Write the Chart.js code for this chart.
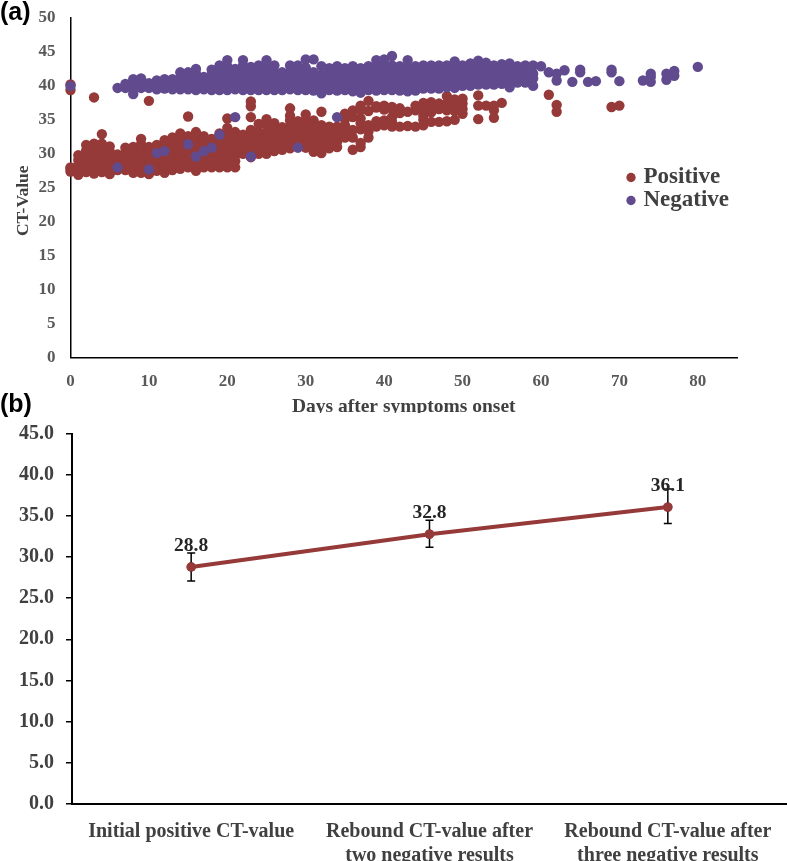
<!DOCTYPE html>
<html>
<head>
<meta charset="utf-8">
<script src="https://cdn.jsdelivr.net/npm/chart.js@4"></script>
<style>
html,body{margin:0;padding:0;background:#fff;width:787px;height:861px;overflow:hidden}
canvas{position:absolute;left:0}
#ca{top:0}
#cb{top:420px}
.panel{position:absolute;left:0;font:bold 25px "Liberation Sans",Arial,sans-serif;color:#000;line-height:26px}
</style>
</head>
<body>
<canvas id="ca" width="787" height="413"></canvas>
<canvas id="cb" width="787" height="441"></canvas>
<div class="panel" style="top:-2px">(a)</div>
<div class="panel" style="top:390px">(b)</div>
<script>
const positiveColumns = [
[0,27.4,27.8,28.0,39.4,40.2],
[1,26.9,27.6,28.4,29.1,29.8],
[2,27.3,28.1,28.9,29.7,30.5,31.3],
[3,27.1,27.9,28.8,29.6,30.5,31.5,38.3],
[4,27.3,28.2,29.0,29.9,30.8,31.5,32.9],
[5,27.0,27.9,28.7,29.6,30.4,31.1],
[6,27.6,28.4,29.2,29.9],
[7,27.6,28.4,29.3,30.1,30.9],
[8,27.2,28.1,28.9,29.7,30.4,31.0],
[9,27.2,28.0,28.9,29.8,30.6,31.4,32.2],
[10,27.0,27.9,28.7,29.6,30.4,31.0,37.8],
[11,27.5,28.3,29.1,29.9,30.6,31.3],
[12,27.2,28.0,28.9,29.7,30.5,31.3,32.0],
[13,27.6,28.4,29.2,30.0,30.8,31.6,32.4],
[14,27.8,28.6,29.4,30.2,31.0,31.8,32.4,33.0],
[15,28.0,28.8,29.6,30.4,31.2,32.0,32.6,35.5],
[16,27.5,28.3,29.1,29.9,30.7,31.5,32.4,33.2],
[17,28.0,28.8,29.6,30.4,31.2,32.0,32.6],
[18,28.0,28.8,29.6,30.4,31.2,31.8,32.2],
[19,28.0,28.8,29.6,30.4,31.2,32.0,33.0],
[20,28.0,28.8,29.6,30.4,31.2,32.0,32.9,33.8,35.2],
[21,28.0,28.9,29.7,30.5,31.3,32.2,33.2],
[22,30.0,30.8,31.6,32.2,32.8],
[23,29.5,30.3,31.1,31.9,32.7,33.5,35.4,37.0,37.7],
[24,30.0,30.8,31.6,32.4,33.2,34.4],
[25,30.0,30.8,31.6,32.4,33.2,34.2,35.1],
[26,30.4,31.2,32.0,32.8,33.6,34.5],
[27,30.6,31.4,32.2,33.0,33.9],
[28,30.8,31.6,32.4,33.2,34.1,34.9,35.6,36.7],
[29,31.8,32.6,33.4,34.1,34.8],
[30,30.9,31.7,32.5,33.4,34.2,35.0,35.8],
[31,30.3,31.1,32.0,32.8,33.7,34.9],
[32,30.1,31.0,31.9,32.8,33.6,34.2,36.2],
[33,30.8,31.6,32.4,33.2,34.0],
[34,31.0,31.8,32.7,33.4,34.0],
[35,32.4,33.2,34.2,35.1,35.9],
[36,30.6,32.4,33.5,35.4,36.4],
[37,31.0,31.6,33.6,34.5,35.2,36.4,37.1],
[38,32.4,33.3,34.2,36.3,37.8],
[39,34.0,34.8,36.8,37.0],
[40,34.2,34.9,36.5,37.1],
[41,34.0,34.7,35.4,36.6,36.9],
[42,34.0,36.0,36.7],
[43,34.1,36.2],
[44,34.0,36.4,37.1],
[45,34.2,35.0,35.6,36.6,37.5],
[46,34.7,36.1,36.8,37.6],
[47,34.7,36.6,37.4],
[48,34.8,36.4,37.4,38.5],
[49,35.0,36.3,37.2,38.0],
[50,35.9,36.6,37.4,38.1],
[52,35.1,37.1,38.6],
[53,37.1],
[54,35.3,36.4,37.1],
[55,37.5],
[61,38.7],
[62,36.2,37.2],
[69,36.9],
[70,37.1]
];
const negativeColumns = [
[0,40.0],
[6,28.0,39.7],
[7,39.7,40.3],
[8,38.8,39.6,40.3,41.0],
[9,39.7,40.4,41.1],
[10,27.7,39.7,40.4],
[11,30.1,39.5,40.1,40.8],
[12,30.4,39.6,40.3,41.0],
[13,39.5,40.2,41.0],
[14,39.5,40.3,41.1,42.0],
[15,31.4,39.5,40.3,41.0,42.0],
[16,29.6,39.4,40.2,41.0,41.8,42.5],
[17,30.4,39.5,40.3,41.3],
[18,30.9,39.4,40.3,41.2,41.7,42.4],
[19,32.8,39.4,40.3,41.2,42.0,43.0],
[20,39.4,40.3,41.2,42.0,42.9,43.8],
[21,35.4,39.5,40.4,41.2,42.0,42.5],
[22,39.4,40.4,41.2,42.0,43.0,43.8],
[23,29.6,39.4,40.3,41.1,42.0,42.8],
[24,39.4,40.3,41.2,42.1,43.0],
[25,39.4,40.2,41.1,42.0,43.0,43.8],
[26,39.4,40.3,41.2,42.1,43.0],
[27,39.4,40.3,41.2,42.0],
[28,39.5,40.4,41.2,42.0,43.0],
[29,30.9,39.4,40.3,41.2,42.1,43.0],
[30,39.4,40.3,41.2,42.1,42.7,43.9],
[31,39.3,40.2,41.1,42.0,43.9],
[32,38.9,39.8,40.7,41.6,42.9],
[33,39.4,40.3,41.1,42.0,42.6],
[34,35.4,39.3,40.2,41.1,42.0,42.9],
[35,39.4,40.3,41.2,42.0,42.6],
[36,39.2,40.1,41.0,41.9,42.9],
[37,39.0,39.9,40.8,41.7,42.6],
[38,39.4,40.3,41.2,42.0,42.9],
[39,39.3,40.2,41.1,42.0,42.8,43.8],
[40,39.4,40.3,41.2,42.1,43.0,43.9],
[41,39.4,40.3,41.2,42.1,43.0,44.4],
[42,39.3,40.2,41.1,42.0,42.9],
[43,39.2,40.1,41.0,41.9,42.7,43.8],
[44,39.3,40.2,41.1,42.0,42.9],
[45,39.6,40.4,41.2,42.1,43.0],
[46,39.6,40.4,41.2,42.1,43.0],
[47,39.6,40.4,41.3,42.2,43.0],
[48,39.8,40.6,41.4,42.2,43.0],
[49,39.7,40.5,41.3,42.1,42.9,43.6],
[50,40.0,40.8,41.6,42.4,43.0],
[51,40.0,40.8,41.6,42.4,43.3],
[52,40.2,41.0,41.8,42.6,43.7],
[53,40.2,41.0,41.8,42.6,43.4],
[54,40.2,41.0,41.8,42.5,43.0],
[55,40.3,41.0,41.8,42.5,43.2],
[56,39.8,40.7,41.5,42.3,43.3],
[57,40.5,41.2,42.0,42.9],
[58,40.5,41.3,42.1,43.0],
[59,40.0,41.1,41.8,43.0],
[60,42.9],
[61,42.0],
[62,40.8,41.8],
[63,42.3],
[64,40.6],
[65,42.0,42.4],
[66,40.6],
[67,40.7],
[69,42.0,42.4],
[70,40.7],
[73,40.8],
[74,40.6,41.3,41.8],
[76,40.9,41.8],
[77,41.5,42.2],
[80,42.8]
];
const positiveName = "Positive";
const negativeName = "Negative";
const xTitleA = "Days after symptoms onset";
const yTitleA = "CT-Value";

// Panel (b)
const stageLabels = [
  "Initial positive CT-value",
  ["Rebound CT-value after","two negative results"],
  ["Rebound CT-value after","three negative results"]
];
const meanCT = [28.8, 32.8, 36.1];
const errLow = [27.1, 31.2, 34.1];
const errHigh = [30.5, 34.5, 38.3];

const RED = "#953A38", PURPLE = "#614B8E", SERIF = '"Liberation Serif","Times New Roman",serif';
const expand = cols => cols.flatMap(([d, ...vs]) => vs.map(v => ({x: d, y: v})));

const placeLegend = {
  id: "placeLegend",
  afterLayout(chart) {
    const l = chart.legend; const w = l.width, h = l.height;
    l.left = 630; l.right = 630 + w; l.top = 166; l.bottom = 166 + h;
    l.adjustHitBoxes && l.adjustHitBoxes();
    l.draw = function () { this._draw(); };
  }
};
const shiftYTitle = {
  id: "shiftYTitle",
  afterLayout(chart) {
    const s = chart.scales.y;
    if (s._wrapped) return;
    const orig = s.drawTitle;
    s.drawTitle = function (a) {
      const t = this.top, b = this.bottom;
      this.top = t + 13; this.bottom = b + 13;
      orig.call(this, a);
      this.top = t; this.bottom = b;
    };
    s._wrapped = true;
  }
};

new Chart(document.getElementById("ca"), {
  type: "scatter",
  data: {datasets: [
    {label: positiveName, data: expand(positiveColumns), backgroundColor: RED, borderWidth: 0, pointRadius: 5.2, order: 2, clip: false},
    {label: negativeName, data: expand(negativeColumns), backgroundColor: PURPLE, borderWidth: 0, pointRadius: 5.2, order: 1, clip: false}
  ]},
  plugins: [placeLegend, shiftYTitle],
  options: {
    responsive: false, animation: false,
    layout: {autoPadding: false, padding: {left: 0, top: 18, right: 50, bottom: 0}},
    plugins: {
      tooltip: {enabled: false},
      legend: {
        position: "chartArea", align: "start", padding: 0,
        labels: {usePointStyle: true, pointStyle: "circle", boxWidth: 2, boxHeight: 6.6, padding: 0,
          sort: (a, b) => a.datasetIndex - b.datasetIndex,
          font: {family: SERIF, weight: "bold", size: 23}, color: "#404040"}
      }
    },
    scales: {
      x: {
        type: "linear", min: 0, max: 85,
        afterFit: s => { s.height = 55.5; },
        afterBuildTicks: s => { s.ticks = s.ticks.filter(t => t.value <= 80); },
        title: {display: true, text: xTitleA, color: "#404040", padding: {top: 0, bottom: -6},
          font: {family: SERIF, weight: "bold", size: 19.5}},
        grid: {display: false}, border: {display: true, color: "#000", width: 1.5},
        ticks: {stepSize: 10, maxRotation: 0, padding: 6, color: "#595959",
          font: {family: SERIF, weight: "bold", size: 17}}
      },
      y: {
        min: 0, max: 50,
        afterFit: s => { s.width = 70.5; },
        title: {display: true, text: yTitleA, color: "#404040", padding: {top: 13, bottom: 0},
          font: {family: SERIF, weight: "bold", size: 17.5}},
        grid: {display: false}, border: {display: true, color: "#000", width: 1.5},
        ticks: {stepSize: 5, padding: 7, color: "#595959",
          font: {family: SERIF, weight: "bold", size: 17}}
      }
    }
  }
});

const errorBars = {
  id: "errorBars",
  afterDatasetsDraw(chart) {
    const {ctx, scales: {x, y}} = chart;
    ctx.save();
    ctx.strokeStyle = "#000"; ctx.lineWidth = 1.5;
    meanCT.forEach((m, i) => {
      const px = x.getPixelForValue(i), lo = y.getPixelForValue(errLow[i]), hi = y.getPixelForValue(errHigh[i]);
      ctx.beginPath();
      ctx.moveTo(px, lo); ctx.lineTo(px, hi);
      ctx.moveTo(px - 4, lo); ctx.lineTo(px + 4, lo);
      ctx.moveTo(px - 4, hi); ctx.lineTo(px + 4, hi);
      ctx.stroke();
    });
    ctx.restore();
    // redraw the points above the whiskers
    chart.getDatasetMeta(0).data.forEach(p => p.draw(ctx));
    ctx.save();
    ctx.fillStyle = "#262626";
    ctx.font = 'bold 19.5px ' + SERIF;
    ctx.textAlign = "center"; ctx.textBaseline = "middle";
    meanCT.forEach((m, i) => {
      ctx.fillText(m.toFixed(1), x.getPixelForValue(i), y.getPixelForValue(m) - 21.5);
    });
    ctx.restore();
  }
};

new Chart(document.getElementById("cb"), {
  type: "line",
  data: {labels: stageLabels, datasets: [{
    data: meanCT, borderColor: RED, backgroundColor: RED, borderWidth: 4,
    pointRadius: 4.7, pointBorderWidth: 0, tension: 0
  }]},
  plugins: [errorBars],
  options: {
    responsive: false, animation: false,
    layout: {autoPadding: false, padding: {left: 0, top: 14, right: 0, bottom: 0}},
    plugins: {legend: {display: false}, tooltip: {enabled: false}},
    scales: {
      x: {
        offset: true,
        afterFit: s => { s.height = 57.5; },
        grid: {display: false}, border: {display: true, color: "#000", width: 2},
        ticks: {autoSkip: false, maxRotation: 0, padding: 8, color: "#404040",
          font: {family: SERIF, weight: "bold", size: 20, lineHeight: 1.2}}
      },
      y: {
        min: 0, max: 45,
        afterFit: s => { s.width = 72; s.paddingTop = 0; s.paddingBottom = 0; },
        grid: {drawOnChartArea: false, drawTicks: true, tickLength: 6, color: "#000", lineWidth: 1.5},
        border: {display: true, color: "#000", width: 2},
        ticks: {stepSize: 5, padding: 12, color: "#404040",
          callback: v => v.toFixed(1),
          font: {family: SERIF, weight: "bold", size: 20}}
      }
    }
  }
});
</script>
</body>
</html>
